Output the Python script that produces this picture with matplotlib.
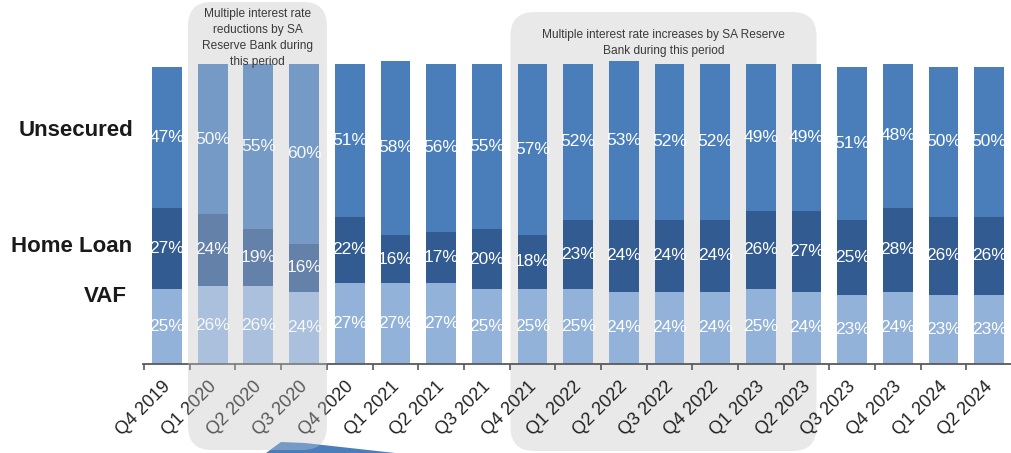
import numpy as np
import matplotlib
matplotlib.use("Agg")
from matplotlib import pyplot as plt
from matplotlib.patches import FancyBboxPatch, Polygon
from matplotlib.transforms import IdentityTransform, ScaledTranslation

quarters = ["Q4 2019", "Q1 2020", "Q2 2020", "Q3 2020", "Q4 2020", "Q1 2021",
            "Q2 2021", "Q3 2021", "Q4 2021", "Q1 2022", "Q2 2022", "Q3 2022",
            "Q4 2022", "Q1 2023", "Q2 2023", "Q3 2023", "Q4 2023", "Q1 2024",
            "Q2 2024"]
vaf = [25, 26, 26, 24, 27, 27, 27, 25, 25, 25, 24, 24, 24, 25, 24, 23, 24, 23, 23]
home_loan = [27, 24, 19, 16, 22, 16, 17, 20, 18, 23, 24, 24, 24, 26, 27, 25, 28, 26, 26]
unsecured = [47, 50, 55, 60, 51, 58, 56, 55, 57, 52, 53, 52, 52, 49, 49, 51, 48, 50, 50]

series_names = ["VAF", "Home Loan", "Unsecured"]
colors = ["#93b2d9", "#325b92", "#4a7ebb"]

# shaded periods: (first quarter, last quarter, note)
cut_period = ("Q1 2020", "Q3 2020",
              "Multiple interest rate\nreductions by SA\nReserve Bank during\nthis period")
hike_period = ("Q4 2021", "Q2 2023",
               "Multiple interest rate increases by SA Reserve\nBank during this period")

plt.rcParams['font.family'] = ['Liberation Sans', 'DejaVu Sans']

W, H = 1012, 453
fig = plt.figure(figsize=(W / 100, H / 100), dpi=100)
ax = fig.add_axes([143 / W, (H - 364) / H, (W - 143) / W, 364 / H])

x = np.arange(len(quarters))
bottom = np.zeros(len(quarters))
for name, vals, col in zip(series_names, [vaf, home_loan, unsecured], colors):
    vals = np.array(vals, dtype=float)
    ax.bar(x, vals, 0.65, bottom=bottom, color=col, zorder=2, label=name)
    for xi, b, v in zip(x, bottom, vals):
        ax.text(xi, b + v / 2, f"{int(v)}%", color="white", fontsize=12.5,
                ha="center", va="center", zorder=3)
    bottom += vals

ax.set_xlim(-0.525, 18.49)
ax.set_ylim(0, 364 / 3)
ax.set_yticks([])
for s in ["top", "right", "left"]:
    ax.spines[s].set_visible(False)
ax.spines["bottom"].set_color("#595959")
ax.spines["bottom"].set_linewidth(1.3)
ax.spines["bottom"].set_zorder(4)
ax.set_xticks(x)
ax.set_xticklabels(quarters, rotation=45, ha="right", rotation_mode="anchor",
                   fontsize=13, color="#222222")
ax.tick_params(axis="x", which="major", length=0, pad=10)
shift = ScaledTranslation(-5 / 100, 0, fig.dpi_scale_trans)
for lab in ax.get_xticklabels():
    lab.set_transform(lab.get_transform() + shift)
ax.set_xticks(np.arange(-0.5, len(quarters), 1), minor=True)
ax.tick_params(axis="x", which="minor", length=4, width=1.2, color="#595959")
ax.patch.set_alpha(0)

# shaded boxes in pixel space
def px(i):
    return ax.transData.transform((i, 0))[0]

def box(first, last, pad_l, pad_r, top, bot, overlay, note, note_y):
    i0, i1 = quarters.index(first), quarters.index(last)
    x0, x1 = px(i0 - pad_l), px(i1 + pad_r)
    bg = FancyBboxPatch((x0, H - bot), x1 - x0, bot - top,
                        boxstyle="round,pad=0,rounding_size=24",
                        transform=IdentityTransform(), facecolor="#e9e9e9",
                        edgecolor="none", zorder=0)
    fig.add_artist(bg)
    if overlay:
        ov = FancyBboxPatch((x0, H - bot), x1 - x0, bot - top,
                            boxstyle="round,pad=0,rounding_size=24",
                            transform=IdentityTransform(), facecolor="#e6e6e6",
                            edgecolor="none", alpha=0.28, zorder=5)
        fig.add_artist(ov)
    cx = (x0 + x1) / 2
    fig.text(cx / W, 1 - note_y / H, note, ha="center", va="center",
             fontsize=8.6, color="#3a3a3a", linespacing=1.45, zorder=6)

box(cut_period[0], cut_period[1], 0.54, 0.5, 2, 450, True, cut_period[2], 38)
box(hike_period[0], hike_period[1], 0.48, 0.22, 12, 451, False, hike_period[2], 43)
ax.set_zorder(1)

# partial arrow shape at the bottom
wedge = Polygon([(266, H - 453), (281, H - 442), (305, H - 443), (395, H - 453)],
                closed=True, transform=IdentityTransform(), facecolor="#4a7ebb",
                edgecolor="none", zorder=3)
fig.add_artist(wedge)

# row labels
fig.text(133 / W, 1 - 131 / H, "Unsecured", ha="right", va="center",
         fontsize=16, fontweight="bold", color="#1a1a1a")
fig.text(132 / W, 1 - 246 / H, "Home Loan", ha="right", va="center",
         fontsize=16, fontweight="bold", color="#1a1a1a")
fig.text(127 / W, 1 - 296 / H, "VAF", ha="right", va="center",
         fontsize=16, fontweight="bold", color="#1a1a1a")

fig.savefig("out.png", dpi=100)
